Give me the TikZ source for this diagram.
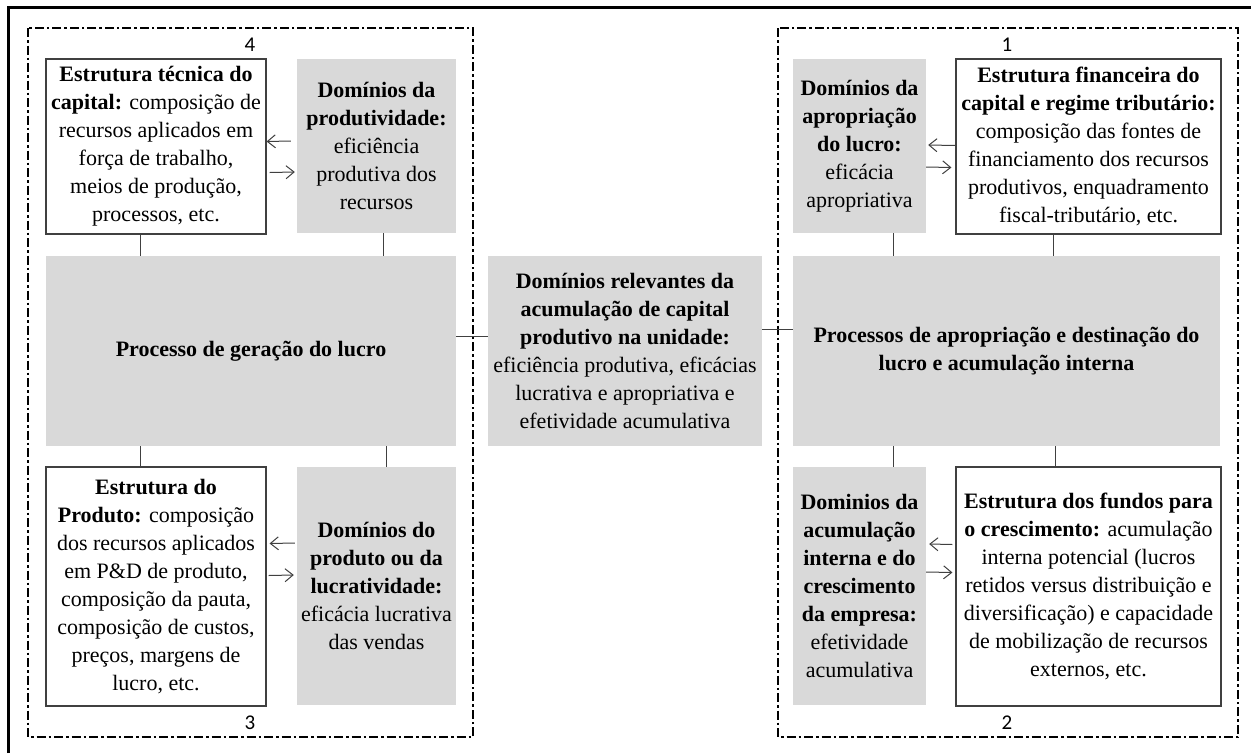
\documentclass[tikz,border=0pt]{standalone}
\usepackage{fontspec}
\setmainfont{Liberation Serif}
\newfontfamily\numfont{Carlito}
\usetikzlibrary{arrows.meta}
\definecolor{boxgray}{HTML}{D9D9D9}
\definecolor{linegray}{HTML}{404040}
\begin{document}
\begin{tikzpicture}[x=1pt,y=-1pt,
 txt/.style={font=\fontsize{22}{28}\selectfont, align=center, inner sep=0pt},
 wbox/.style={txt, draw=linegray, line width=1.2pt, fill=white},
 gbox/.style={txt, fill=boxgray},
 conn/.style={draw=linegray, line width=1pt},
 arr/.style={draw=linegray, line width=1pt, -{Straight Barb[length=8pt,width=13pt]}},
 grpframe/.style={draw=black, line width=1.8pt, dash pattern=on 9pt off 3pt on 2.5pt off 3pt},
 num/.style={font=\numfont\fontsize{21}{24}\selectfont, inner sep=0pt}]
\useasboundingbox (0,0) rectangle (1251,753);
\fill[white] (0,0) rectangle (1251,753);
% outer frame
\draw[line width=3pt] (8,753) -- (8,7) -- (1251,7);
% group frames
\draw[grpframe] (28,28) rectangle (473,737);
\draw[grpframe] (778,28) rectangle (1238,737);
% numbers
\node[num] (n4) at (250,45) {4};
\node[num] (n1) at (1007,45) {1};
\node[num] (n3) at (250,723) {3};
\node[num] (n2) at (1007,723) {2};
% boxes
\node[wbox, minimum width=220pt, minimum height=175pt] (tlw) at (156,146.5)
 {\textbf{Estrutura técnica do}\\\textbf{capital:} composição de\\recursos aplicados em\\força de trabalho,\\meios de produção,\\processos, etc.};
\node[gbox, minimum width=159pt, minimum height=174pt] (tlg) at (376.5,146)
 {\textbf{Domínios da}\\\textbf{produtividade:}\\eficiência\\produtiva dos\\recursos};
\node[gbox, minimum width=410pt, minimum height=190pt] (lb) at (251,351)
 {\textbf{Processo de geração do lucro}};
\node[gbox, minimum width=274pt, minimum height=190pt] (cb) at (625,351)
 {\textbf{Domínios relevantes da}\\\textbf{acumulação de capital}\\\textbf{produtivo na unidade:}\\eficiência produtiva, eficácias\\lucrativa e apropriativa e\\efetividade acumulativa};
\node[gbox, minimum width=427pt, minimum height=190pt] (rb) at (1006.5,351)
 {\textbf{Processos de apropriação e destinação do}\\\textbf{lucro e acumulação interna}};
\node[wbox, minimum width=220pt, minimum height=239pt] (blw) at (156,586.5)
 {\textbf{Estrutura do}\\\textbf{Produto:} composição\\dos recursos aplicados\\em P\&D de produto,\\composição da pauta,\\composição de custos,\\preços, margens de\\lucro, etc.};
\node[gbox, minimum width=159pt, minimum height=238pt] (blg) at (376.5,586)
 {\textbf{Domínios do}\\\textbf{produto ou da}\\\textbf{lucratividade:}\\eficácia lucrativa\\das vendas};
\node[gbox, minimum width=133pt, minimum height=174pt] (trg) at (859.5,146)
 {\textbf{Domínios da}\\\textbf{apropriação}\\\textbf{do lucro:}\\eficácia\\apropriativa};
\node[wbox, minimum width=265pt, minimum height=175pt] (trw) at (1088.5,146.5)
 {\textbf{Estrutura financeira do}\\\textbf{capital e regime tributário:}\\composição das fontes de\\financiamento dos recursos\\produtivos, enquadramento\\fiscal-tributário, etc.};
\node[gbox, minimum width=133pt, minimum height=238pt] (brg) at (859.5,586)
 {\textbf{Dominios da}\\\textbf{acumulação}\\\textbf{interna e do}\\\textbf{crescimento}\\\textbf{da empresa:}\\efetividade\\acumulativa};
\node[wbox, minimum width=265pt, minimum height=239pt] (brw) at (1088.5,586.5)
 {\textbf{Estrutura dos fundos para}\\\textbf{o crescimento:} acumulação\\interna potencial (lucros\\retidos versus distribuição e\\diversificação) e capacidade\\de mobilização de recursos\\externos, etc.};
% arrows
\draw[arr] ([xshift=-6pt,yshift=5pt]tlg.west) -- ([yshift=5pt]tlw.east);
\draw[arr] ([xshift=3pt,yshift=-26pt]tlw.east) -- ([xshift=-2pt,yshift=-26pt]tlg.west);
\draw[arr] ([xshift=-2pt,yshift=43pt]blg.west) -- ([xshift=3pt,yshift=43pt]blw.east);
\draw[arr] ([xshift=2pt,yshift=11pt]blw.east) -- ([xshift=-3pt,yshift=11pt]blg.west);
\draw[arr] ([yshift=1pt]trw.west) -- ([xshift=2pt,yshift=1pt]trg.east);
\draw[arr] ([yshift=-21pt]trg.east) -- ([xshift=-4pt,yshift=-21pt]trw.west);
\draw[arr] ([xshift=-3pt,yshift=42pt]brw.west) -- ([xshift=3pt,yshift=42pt]brg.east);
\draw[arr] ([yshift=14pt]brg.east) -- ([xshift=-3pt,yshift=14pt]brw.west);
% connectors
\coordinate (c1) at ([xshift=-16pt]tlw.south);
\coordinate (c2) at ([xshift=6.5pt]tlg.south);
\coordinate (c3) at ([xshift=-16pt]blw.north);
\coordinate (c4) at ([xshift=9.5pt]blg.north);
\coordinate (c5) at ([xshift=33.5pt]trg.south);
\coordinate (c6) at ([xshift=-35.5pt]trw.south);
\coordinate (c7) at ([xshift=33.5pt]brg.north);
\coordinate (c8) at ([xshift=-33.5pt]brw.north);
\draw[conn] (c1) -- (c1 |- lb.north);
\draw[conn] (c2) -- (c2 |- lb.north);
\draw[conn] (c3) -- (c3 |- lb.south);
\draw[conn] (c4) -- (c4 |- lb.south);
\draw[conn] (c5) -- (c5 |- rb.north);
\draw[conn] (c6) -- (c6 |- rb.north);
\draw[conn] (c7) -- (c7 |- rb.south);
\draw[conn] (c8) -- (c8 |- rb.south);
\draw[conn] ([yshift=15pt]lb.east) -- ([yshift=15pt]cb.west);
\draw[conn] ([yshift=22pt]cb.east) -- ([yshift=22pt]rb.west);
\end{tikzpicture}
\end{document}
